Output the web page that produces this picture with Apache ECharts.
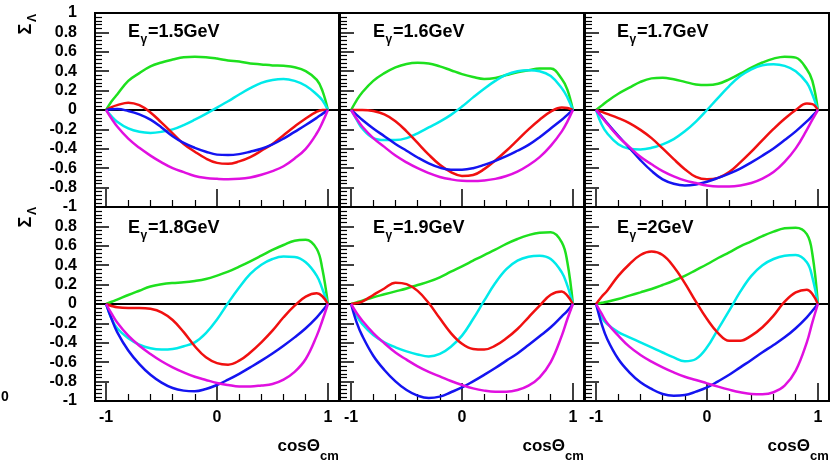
<!DOCTYPE html>
<html>
<head>
<meta charset="utf-8">
<script src="https://cdn.jsdelivr.net/npm/echarts@6/dist/echarts.min.js"></script>
<style>
  html, body { margin: 0; padding: 0; background: #fff; }
  #chart { width: 838px; height: 463px; }
</style>
</head>
<body>
<div id="chart"></div>
<script>
// cos(theta_cm) sample points shared by every curve
const xs = [-1, -0.95, -0.9, -0.8, -0.7, -0.6, -0.5, -0.4, -0.3, -0.2, -0.1, 0,
            0.1, 0.2, 0.3, 0.4, 0.5, 0.6, 0.7, 0.8, 0.9, 0.95, 1];

const energies = ['1.5', '1.6', '1.7', '1.8', '1.9', '2'];

// E_gamma = 1.5 GeV
const green15 = [0, 0.09, 0.16, 0.30, 0.38, 0.45, 0.49, 0.52, 0.545, 0.55, 0.545, 0.53, 0.51, 0.50, 0.48, 0.47, 0.46, 0.455, 0.44, 0.40, 0.31, 0.20, 0];
const cyan15 = [0, -0.065, -0.12, -0.19, -0.225, -0.236, -0.225, -0.20, -0.155, -0.10, -0.04, 0.025, 0.09, 0.16, 0.225, 0.28, 0.31, 0.32, 0.30, 0.25, 0.16, 0.10, 0];
const red15 = [0, 0.03, 0.05, 0.076, 0.05, -0.025, -0.13, -0.24, -0.35, -0.43, -0.50, -0.545, -0.555, -0.53, -0.486, -0.42, -0.35, -0.26, -0.17, -0.087, -0.017, 0.0, 0];
const blue15 = [0, 0.008, 0.01, -0.01, -0.045, -0.10, -0.18, -0.27, -0.34, -0.39, -0.43, -0.46, -0.465, -0.455, -0.43, -0.40, -0.355, -0.295, -0.225, -0.155, -0.08, -0.04, 0];
const magenta15 = [0, -0.09, -0.17, -0.295, -0.39, -0.47, -0.54, -0.60, -0.64, -0.68, -0.70, -0.71, -0.715, -0.71, -0.695, -0.667, -0.63, -0.58, -0.50, -0.40, -0.24, -0.13, 0];

// E_gamma = 1.6 GeV
const green16 = [0, 0.10, 0.18, 0.30, 0.38, 0.44, 0.475, 0.486, 0.48, 0.45, 0.41, 0.37, 0.34, 0.32, 0.33, 0.36, 0.39, 0.41, 0.427, 0.427, 0.32, 0.21, 0];
const cyan16 = [0, -0.10, -0.19, -0.29, -0.31, -0.31, -0.29, -0.24, -0.18, -0.12, -0.05, 0.035, 0.13, 0.22, 0.30, 0.365, 0.40, 0.41, 0.40, 0.35, 0.225, 0.13, 0];
const red16 = [0, 0.0, 0.0, -0.01, -0.045, -0.115, -0.22, -0.34, -0.46, -0.565, -0.64, -0.68, -0.67, -0.61, -0.52, -0.42, -0.31, -0.20, -0.10, -0.017, 0.025, 0.02, 0];
const blue16 = [0, -0.05, -0.10, -0.19, -0.27, -0.35, -0.42, -0.49, -0.55, -0.594, -0.615, -0.615, -0.60, -0.566, -0.524, -0.476, -0.42, -0.36, -0.28, -0.19, -0.10, -0.05, 0];
const magenta16 = [0, -0.09, -0.17, -0.29, -0.38, -0.47, -0.54, -0.60, -0.65, -0.69, -0.715, -0.73, -0.733, -0.726, -0.71, -0.68, -0.635, -0.57, -0.486, -0.37, -0.22, -0.12, 0];

// E_gamma = 1.7 GeV
const green17 = [0, 0.045, 0.09, 0.167, 0.23, 0.29, 0.326, 0.333, 0.316, 0.29, 0.264, 0.257, 0.27, 0.316, 0.375, 0.437, 0.49, 0.53, 0.55, 0.54, 0.42, 0.30, 0];
const cyan17 = [0, -0.15, -0.24, -0.354, -0.40, -0.406, -0.39, -0.354, -0.30, -0.22, -0.12, 0.0, 0.125, 0.246, 0.35, 0.42, 0.462, 0.472, 0.455, 0.40, 0.28, 0.16, 0];
const red17 = [0, -0.02, -0.04, -0.083, -0.135, -0.205, -0.29, -0.396, -0.507, -0.61, -0.69, -0.715, -0.70, -0.64, -0.54, -0.43, -0.31, -0.195, -0.09, 0.0, 0.066, 0.06, 0];
const blue17 = [0, -0.066, -0.135, -0.267, -0.39, -0.517, -0.628, -0.715, -0.76, -0.778, -0.767, -0.74, -0.70, -0.656, -0.604, -0.54, -0.47, -0.396, -0.31, -0.22, -0.118, -0.06, 0];
const magenta17 = [0, -0.073, -0.142, -0.274, -0.38, -0.483, -0.56, -0.63, -0.684, -0.726, -0.753, -0.778, -0.788, -0.788, -0.778, -0.753, -0.708, -0.64, -0.535, -0.396, -0.205, -0.10, 0];

// E_gamma = 1.8 GeV
const green18 = [0, 0.023, 0.045, 0.093, 0.137, 0.18, 0.203, 0.216, 0.223, 0.237, 0.258, 0.292, 0.333, 0.385, 0.44, 0.498, 0.557, 0.608, 0.653, 0.663, 0.567, 0.36, 0];
const cyan18 = [0, -0.155, -0.25, -0.354, -0.42, -0.457, -0.47, -0.464, -0.436, -0.395, -0.30, -0.16, 0.01, 0.17, 0.31, 0.405, 0.464, 0.49, 0.485, 0.43, 0.29, 0.155, 0];
const red18 = [0, -0.02, -0.034, -0.04, -0.04, -0.05, -0.086, -0.165, -0.29, -0.436, -0.55, -0.61, -0.625, -0.584, -0.50, -0.395, -0.275, -0.137, -0.017, 0.076, 0.11, 0.08, 0];
const blue18 = [0, -0.155, -0.29, -0.48, -0.62, -0.73, -0.81, -0.866, -0.893, -0.90, -0.876, -0.835, -0.78, -0.72, -0.653, -0.584, -0.51, -0.43, -0.344, -0.25, -0.137, -0.07, 0];
const magenta18 = [0, -0.10, -0.19, -0.326, -0.43, -0.515, -0.59, -0.653, -0.705, -0.75, -0.783, -0.814, -0.835, -0.85, -0.85, -0.84, -0.825, -0.78, -0.70, -0.567, -0.326, -0.17, 0];

// E_gamma = 1.9 GeV
const green19 = [0, 0.017, 0.034, 0.07, 0.10, 0.13, 0.16, 0.196, 0.23, 0.275, 0.333, 0.388, 0.447, 0.505, 0.56, 0.62, 0.67, 0.71, 0.735, 0.74, 0.636, 0.43, 0];
const cyan19 = [0, -0.12, -0.206, -0.32, -0.395, -0.447, -0.488, -0.52, -0.54, -0.515, -0.44, -0.326, -0.155, 0.034, 0.216, 0.36, 0.447, 0.488, 0.498, 0.464, 0.326, 0.19, 0];
const red19 = [0, 0.01, 0.024, 0.093, 0.16, 0.22, 0.205, 0.135, 0.01, -0.148, -0.30, -0.41, -0.464, -0.47, -0.43, -0.354, -0.258, -0.137, -0.017, 0.096, 0.13, 0.086, 0];
const blue19 = [0, -0.19, -0.326, -0.533, -0.68, -0.797, -0.887, -0.945, -0.97, -0.955, -0.91, -0.86, -0.797, -0.73, -0.66, -0.584, -0.51, -0.423, -0.333, -0.24, -0.127, -0.07, 0];
const magenta19 = [0, -0.093, -0.17, -0.30, -0.405, -0.50, -0.574, -0.643, -0.70, -0.746, -0.794, -0.835, -0.87, -0.893, -0.904, -0.904, -0.887, -0.842, -0.756, -0.60, -0.326, -0.155, 0];

// E_gamma = 2 GeV
const green20 = [0, 0.012, 0.024, 0.052, 0.086, 0.12, 0.155, 0.196, 0.24, 0.29, 0.35, 0.41, 0.474, 0.533, 0.594, 0.646, 0.70, 0.746, 0.78, 0.787, 0.72, 0.515, 0];
const cyan20 = [0, -0.137, -0.206, -0.29, -0.344, -0.395, -0.447, -0.50, -0.55, -0.59, -0.567, -0.447, -0.258, -0.069, 0.127, 0.29, 0.40, 0.464, 0.498, 0.505, 0.43, 0.275, 0];
const red20 = [0, 0.075, 0.137, 0.29, 0.41, 0.505, 0.54, 0.505, 0.385, 0.216, 0.024, -0.155, -0.30, -0.378, -0.378, -0.326, -0.24, -0.12, 0.024, 0.12, 0.148, 0.103, 0];
const blue20 = [0, -0.206, -0.36, -0.567, -0.704, -0.807, -0.876, -0.928, -0.945, -0.938, -0.904, -0.86, -0.797, -0.73, -0.653, -0.577, -0.498, -0.423, -0.344, -0.25, -0.137, -0.07, 0];
const magenta20 = [0, -0.10, -0.196, -0.326, -0.44, -0.525, -0.594, -0.653, -0.705, -0.75, -0.783, -0.818, -0.852, -0.883, -0.91, -0.928, -0.93, -0.91, -0.842, -0.687, -0.395, -0.19, 0];

const curveSets = [
  [green15, cyan15, red15, blue15, magenta15],
  [green16, cyan16, red16, blue16, magenta16],
  [green17, cyan17, red17, blue17, magenta17],
  [green18, cyan18, red18, blue18, magenta18],
  [green19, cyan19, red19, blue19, magenta19],
  [green20, cyan20, red20, blue20, magenta20]
];
const curveColors = ['#1ee01e', '#00eaea', '#f01010', '#1414f0', '#e010e0'];

const majorX = [-1, 0, 1];
const minorX = [-0.8, -0.6, -0.4, -0.2, 0.2, 0.4, 0.6, 0.8];

// panel geometry
const colLeft = [95, 340, 585];
const panelWidth = 244;
const rowTop = [13, 207];
const panelHeight = 194;

const FONT = '"Liberation Sans", Arial, Helvetica, sans-serif';

const grids = [], xAxes = [], yAxes = [], series = [], graphics = [];

for (let i = 0; i < 6; i++) {
  const col = i % 3, row = Math.floor(i / 3);
  grids.push({
    left: colLeft[col], top: rowTop[row], width: panelWidth, height: panelHeight,
    show: true, borderColor: '#000', borderWidth: 2, backgroundColor: 'transparent'
  });
  // major x ticks + labels
  xAxes.push({
    gridIndex: i, type: 'value', min: -1.1, max: 1.1, position: 'bottom',
    axisLine: { show: false, onZero: false }, splitLine: { show: false },
    axisTick: { show: true, inside: true, length: 18, customValues: majorX,
                lineStyle: { color: '#000', width: 1.5 } },
    axisLabel: { show: row === 1, customValues: majorX, margin: 9,
                 fontFamily: FONT, fontSize: 16, fontWeight: 'bold', color: '#000',
                 formatter: v => String(v) }
  });
  // minor x ticks
  xAxes.push({
    gridIndex: i, type: 'value', min: -1.1, max: 1.1, position: 'bottom',
    axisLine: { show: false, onZero: false }, splitLine: { show: false },
    axisTick: { show: true, inside: true, length: 7, customValues: minorX,
                lineStyle: { color: '#000', width: 1.2 } },
    axisLabel: { show: false }
  });
  yAxes.push({
    gridIndex: i, type: 'value', min: -1, max: 1, interval: 0.2, position: 'left',
    axisLine: { show: false, onZero: false }, splitLine: { show: false },
    axisTick: { show: true, inside: true, length: 14, lineStyle: { color: '#000', width: 1.5 } },
    minorTick: { show: true, splitNumber: 5, length: 7, lineStyle: { color: '#000', width: 1.2 } },
    axisLabel: {
      show: col === 0, margin: 18, showMinLabel: true, showMaxLabel: true,
      fontFamily: FONT, fontSize: 16, fontWeight: 'bold', color: '#000',
      formatter: v => (row === 1 && v > 0.99) ? '' : String(+(+v).toFixed(1))
    }
  });

  curveSets[i].forEach((ys, k) => {
    const s = {
      type: 'line', xAxisIndex: 2 * i, yAxisIndex: i,
      data: xs.map((x, j) => [x, ys[j]]),
      showSymbol: false, smooth: 0.4, z: 3,
      lineStyle: { color: curveColors[k], width: 2.5 },
      itemStyle: { color: curveColors[k] },
      animation: false, silent: true
    };
    if (k === 0) {
      s.markLine = {
        silent: true, symbol: 'none', animation: false, z: 2,
        label: { show: false },
        lineStyle: { color: '#000', width: 2, type: 'solid' },
        data: [{ yAxis: 0 }]
      };
    }
    series.push(s);
  });

  // panel title: E_gamma = ... GeV
  const tx = [128, 373, 617][col];
  const ty = [32, 228][row];
  graphics.push(
    { type: 'text', x: tx, y: ty, style: { text: 'E', font: 'bold 18px ' + FONT, fill: '#000', textVerticalAlign: 'middle' } },
    { type: 'text', x: tx + 12.5, y: ty + 8, style: { text: 'γ', font: 'bold 12px ' + FONT, fill: '#000', textVerticalAlign: 'middle' } },
    { type: 'text', x: tx + 20, y: ty, style: { text: '=' + energies[i] + 'GeV', font: 'bold 18px ' + FONT, fill: '#000', textVerticalAlign: 'middle' } }
  );

  // x-axis title under the bottom row
  if (row === 1) {
    const right = colLeft[col] + panelWidth;
    graphics.push(
      { type: 'text', x: right - 19, y: 446, style: { text: 'cosΘ', font: 'bold 17px ' + FONT, fill: '#000', textAlign: 'right', textVerticalAlign: 'middle' } },
      { type: 'text', x: right - 19, y: 456, style: { text: 'cm', font: 'bold 13px ' + FONT, fill: '#000', textAlign: 'left', textVerticalAlign: 'middle' } }
    );
  }
}

// y-axis titles (Sigma_Lambda), rotated to read bottom-to-top
[0, 193].forEach(dy => {
  graphics.push(
    { type: 'text', x: 26, y: 29 + dy, rotation: Math.PI / 2,
      style: { text: 'Σ', font: 'bold 18px ' + FONT, fill: '#000', textAlign: 'center', textVerticalAlign: 'middle' } },
    { type: 'text', x: 33, y: 18 + dy, rotation: Math.PI / 2,
      style: { text: 'Λ', font: 'bold 12px ' + FONT, fill: '#000', textAlign: 'center', textVerticalAlign: 'middle' } }
  );
});
graphics.push({ type: 'text', x: 1, y: 397, style: { text: '0', font: 'bold 14px ' + FONT, fill: '#000', textVerticalAlign: 'middle' } });

const chart = echarts.init(document.getElementById('chart'), null, { renderer: 'canvas' });
chart.setOption({
  animation: false,
  backgroundColor: '#fff',
  grid: grids,
  xAxis: xAxes,
  yAxis: yAxes,
  series: series,
  graphic: graphics
});
</script>
</body>
</html>
